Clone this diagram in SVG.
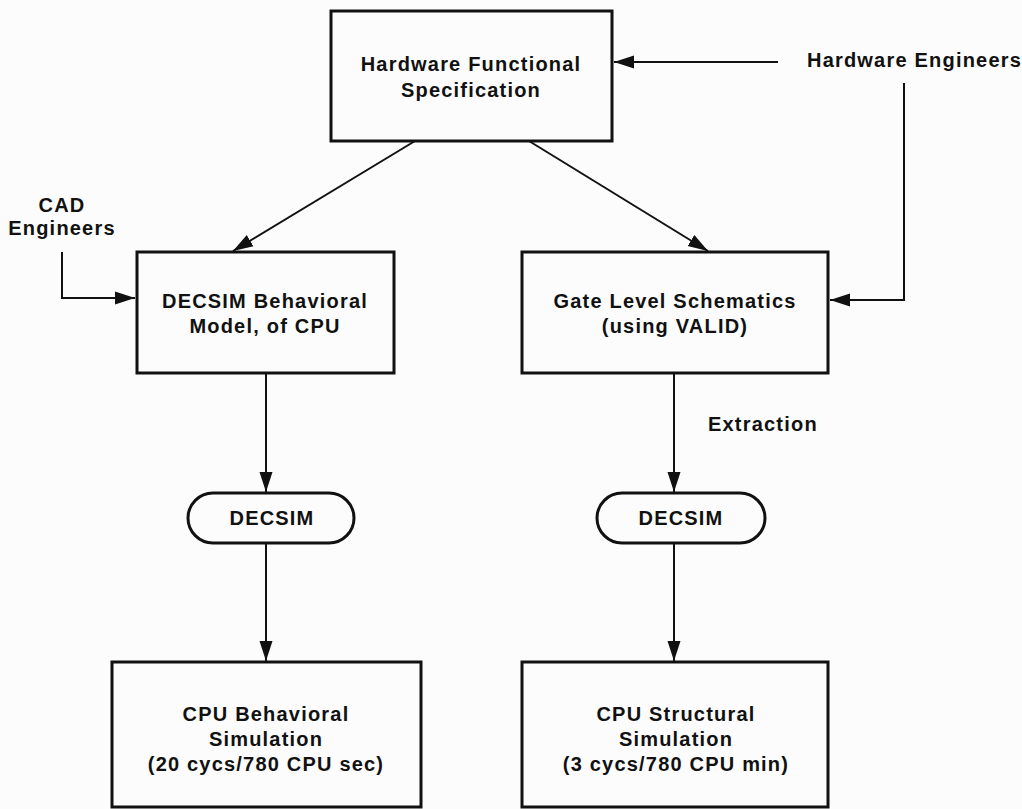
<svg xmlns="http://www.w3.org/2000/svg" width="1022" height="809" viewBox="0 0 1022 809">
  <style>
    .box { fill: none; stroke: #111; stroke-width: 3; }
    .pill { fill: none; stroke: #111; stroke-width: 3; }
    .wire { fill: none; stroke: #111; stroke-width: 2; }
    text { font-family: "Liberation Sans", Arial, sans-serif; font-weight: bold; font-size: 20px; letter-spacing: 1.2px; fill: #111; }
    .c { text-anchor: middle; }
  </style>
  <defs>
    <marker id="head" viewBox="0 0 20 14" refX="20" refY="7" markerWidth="20" markerHeight="14" markerUnits="userSpaceOnUse" orient="auto">
      <path d="M0,0.5 L20,7 L0,13.5 Z" fill="#111"/>
    </marker>
  </defs>
  <rect width="1022" height="809" fill="#fcfcfc"/>

  <!-- connectors -->
  <g id="connectors">
    <line class="wire" x1="778" y1="62" x2="614" y2="62" marker-end="url(#head)"/>
    <polyline class="wire" points="904,83 904,300 830,300" marker-end="url(#head)"/>
    <polyline class="wire" points="62,252 62,298 135,298" marker-end="url(#head)"/>
    <line class="wire" x1="415" y1="141" x2="233" y2="251" marker-end="url(#head)"/>
    <line class="wire" x1="529" y1="141" x2="708" y2="251" marker-end="url(#head)"/>
    <line class="wire" x1="266" y1="374" x2="266" y2="492" marker-end="url(#head)"/>
    <line class="wire" x1="674" y1="374" x2="674" y2="492" marker-end="url(#head)"/>
    <line class="wire" x1="266" y1="544" x2="266" y2="661" marker-end="url(#head)"/>
    <line class="wire" x1="674" y1="544" x2="674" y2="661" marker-end="url(#head)"/>
  </g>

  <g id="spec">
    <rect class="box" x="331" y="11" width="281" height="130"/>
    <text class="c" x="471" y="71">Hardware Functional</text>
    <text class="c" x="471" y="97">Specification</text>
  </g>

  <g id="hw-engineers">
    <text x="807" y="67">Hardware Engineers</text>
  </g>

  <g id="cad-engineers">
    <text class="c" x="62" y="212">CAD</text>
    <text class="c" x="62" y="235">Engineers</text>
  </g>

  <g id="behavioral-model">
    <rect class="box" x="137" y="252" width="257" height="121"/>
    <text class="c" x="265" y="308">DECSIM Behavioral</text>
    <text class="c" x="265" y="333">Model, of CPU</text>
  </g>

  <g id="gate-schematics">
    <rect class="box" x="522" y="252" width="306" height="121"/>
    <text class="c" x="675" y="308">Gate Level Schematics</text>
    <text class="c" x="675" y="333">(using VALID)</text>
  </g>

  <g id="extraction-label">
    <text x="708" y="431">Extraction</text>
  </g>

  <g id="decsim-left">
    <rect class="pill" x="188" y="493" width="166" height="50" rx="25" ry="25"/>
    <text class="c" x="272" y="525">DECSIM</text>
  </g>

  <g id="decsim-right">
    <rect class="pill" x="597" y="493" width="168" height="50" rx="25" ry="25"/>
    <text class="c" x="681" y="525">DECSIM</text>
  </g>

  <g id="behavioral-sim">
    <rect class="box" x="112" y="662" width="309" height="145"/>
    <text class="c" x="266" y="721">CPU Behavioral</text>
    <text class="c" x="266" y="746">Simulation</text>
    <text class="c" x="266" y="771">(20 cycs/780 CPU sec)</text>
  </g>

  <g id="structural-sim">
    <rect class="box" x="522" y="662" width="306" height="145"/>
    <text class="c" x="676" y="721">CPU Structural</text>
    <text class="c" x="676" y="746">Simulation</text>
    <text class="c" x="676" y="771">(3 cycs/780 CPU min)</text>
  </g>
</svg>
